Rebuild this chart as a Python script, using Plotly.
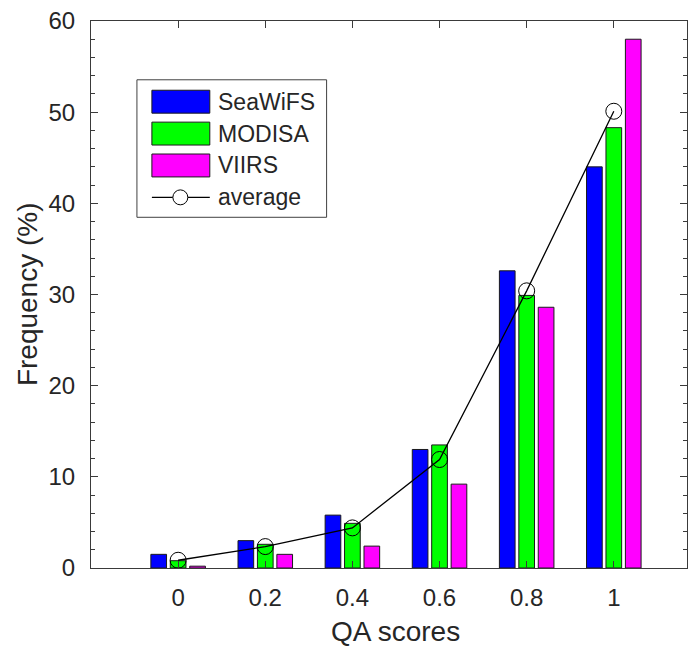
import plotly.graph_objects as go

# QA score bins and per-sensor frequency (%)
qa_scores = [0, 0.2, 0.4, 0.6, 0.8, 1.0]
qa_labels = ["0", "0.2", "0.4", "0.6", "0.8", "1"]
seawifs = [1.5, 3.0, 5.8, 13.0, 32.6, 44.0]
modisa = [0.8, 2.6, 4.9, 13.5, 29.9, 48.3]
viirs = [0.2, 1.5, 2.4, 9.2, 28.6, 58.0]
average = [0.85, 2.35, 4.4, 11.9, 30.4, 50.1]

series_names = ["SeaWiFS", "MODISA", "VIIRS"]
series_colors = ["#0000FF", "#00FF00", "#FF00FF"]

FONT = "Liberation Sans, Arial, sans-serif"
INK = "#262626"
AXIS = "#3a3a3a"

fig = go.Figure()
for name, vals, col in zip(series_names, [seawifs, modisa, viirs], series_colors):
    fig.add_trace(go.Bar(
        x=qa_scores, y=vals, name=name,
        marker=dict(color=col, line=dict(color="#1a1a1a", width=1)),
        showlegend=False,
    ))

fig.add_trace(go.Scatter(
    x=qa_scores, y=average, name="average", mode="lines+markers",
    line=dict(color="black", width=1.3),
    marker=dict(symbol="circle-open", size=16, color="black", line=dict(width=1)),
    showlegend=False,
))

# Hand-built legend box (paper coordinates)
W, H = 695, 650
L, R, T, B = 91, 7, 19, 82
pw, ph = W - L - R, H - T - B


def px(x):
    return (x - L) / pw


def py(y):
    return 1 - (y - T) / ph


shapes = [dict(type="rect", xref="paper", yref="paper",
               x0=px(137), x1=px(327), y0=py(216), y1=py(78),
               line=dict(color="#404040", width=1), fillcolor="white", layer="above")]
annotations = []
rows = [100, 132, 164]
for name, col, yc in zip(series_names, series_colors, rows):
    shapes.append(dict(type="rect", xref="paper", yref="paper",
                       x0=px(152), x1=px(210), y0=py(yc + 11.5), y1=py(yc - 11.5),
                       line=dict(color="#1a1a1a", width=1), fillcolor=col, layer="above"))
    annotations.append(dict(xref="paper", yref="paper", x=px(216), y=py(yc),
                            text=name, showarrow=False, xanchor="left", yanchor="middle",
                            font=dict(family=FONT, size=23, color=INK)))
ya = 196
shapes.append(dict(type="line", xref="paper", yref="paper",
                   x0=px(152), x1=px(210), y0=py(ya), y1=py(ya),
                   line=dict(color="black", width=1.3), layer="above"))
shapes.append(dict(type="circle", xref="paper", yref="paper",
                   x0=px(173), x1=px(188), y0=py(ya + 7.5), y1=py(ya - 7.5),
                   line=dict(color="black", width=1), fillcolor="white", layer="above"))
annotations.append(dict(xref="paper", yref="paper", x=px(216), y=py(ya),
                        text="average", showarrow=False, xanchor="left", yanchor="middle",
                        font=dict(family=FONT, size=23, color=INK)))

# Axis titles
annotations.append(dict(xref="paper", yref="paper", x=px(396), y=py(632),
                        text="QA scores", showarrow=False, xanchor="center", yanchor="middle",
                        font=dict(family=FONT, size=28, color=INK)))
annotations.append(dict(xref="paper", yref="paper", x=px(27), y=py(293),
                        text="Frequency (%)", showarrow=False, textangle=-90,
                        xanchor="center", yanchor="middle",
                        font=dict(family=FONT, size=28, color=INK)))

fig.update_layout(
    width=W, height=H,
    margin=dict(l=L, r=R, t=T, b=B),
    paper_bgcolor="white", plot_bgcolor="white",
    barmode="group", bargap=0.331, bargroupgap=0.193,
    font=dict(family=FONT, size=24, color=INK),
    shapes=shapes, annotations=annotations,
    showlegend=False,
)
fig.update_xaxes(
    range=[-0.2, 1.168], tickvals=qa_scores, ticktext=qa_labels,
    ticks="inside", ticklen=7, tickwidth=1, tickcolor=AXIS,
    showline=True, linecolor=AXIS, linewidth=1.2, mirror="ticks",
    showgrid=False, zeroline=False, ticklabelstandoff=8,
    tickfont=dict(family=FONT, size=24, color=INK),
)
fig.update_yaxes(
    range=[0, 60], dtick=10, tick0=0,
    ticks="inside", ticklen=7, tickwidth=1, tickcolor=AXIS,
    minor=dict(dtick=2, ticks="inside", ticklen=4, tickcolor=AXIS, showgrid=False),
    showline=True, linecolor=AXIS, linewidth=1.2, mirror="ticks",
    showgrid=False, zeroline=False, ticklabelstandoff=10,
    tickfont=dict(family=FONT, size=24, color=INK),
)

fig.write_html("out.html")
